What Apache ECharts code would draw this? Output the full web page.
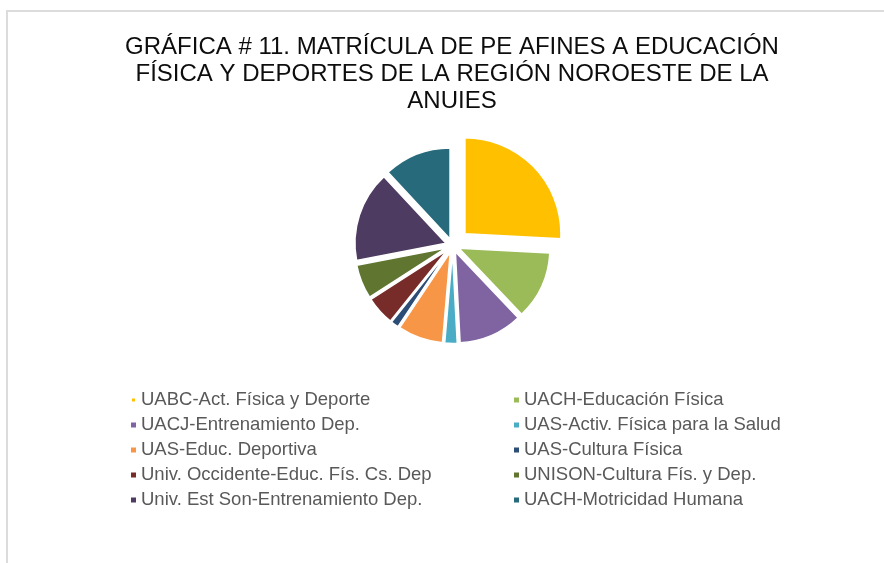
<!DOCTYPE html>
<html>
	<head>
		<meta charset="UTF-8">
		<title></title>
		<style media="screen">
      html,body{margin:0;padding:0;background:#fff;}
      #frame{
        position:absolute;left:6px;top:10px;width:900px;height:600px;
        border-top:2px solid #dcdcdc;border-left:2px solid #dcdcdc;
      }
      #echart-container{
        position:absolute;left:0;top:0;
        height: 563px;
        width: 884px;
      }
    </style>
		<script type="text/javascript" src="https://cdn.jsdelivr.net/npm/echarts@6/dist/echarts.min.js"></script>
	</head>
	<body>
		<div id="frame"></div>
		<div id="echart-container"></div>
		<script>
      // datos: matrícula por programa educativo
      var categories = [
        'UABC-Act. Física y Deporte',
        'UACH-Educación Física',
        'UACJ-Entrenamiento Dep.',
        'UAS-Activ. Física para la Salud',
        'UAS-Educ. Deportiva',
        'UAS-Cultura Física',
        'Univ. Occidente-Educ. Fís. Cs. Dep',
        'UNISON-Cultura Fís. y Dep.',
        'Univ. Est Son-Entrenamiento Dep.',
        'UACH-Motricidad Humana'
      ];
      var values = [775, 362, 338, 66, 240, 42, 154, 182, 483, 358];
      var colors = ['#FFC000','#9BBB59','#8064A2','#4BACC6','#F79646','#2C4D75','#772C2A','#5F7530','#4D3B62','#276A7C'];

      var myEchart = echarts.init(document.getElementById('echart-container'));

      // la primera rebanada va más separada: dos series superpuestas
      function buildData(showFirst){
        return categories.map(function(name, i){
          var visible = showFirst ? i === 0 : i !== 0;
          return {
            name: name,
            value: values[i],
            selected: visible,
            itemStyle: visible
              ? {color: colors[i], borderColor: '#fff', borderWidth: 1.5}
              : {color: 'transparent', borderWidth: 0}
          };
        });
      }

      function legendData(idx){
        return idx.map(function(i){
          return {name: categories[i], itemStyle: {color: colors[i]}};
        });
      }

      var legendCommon = {
        orient: 'vertical',
        top: 385,
        icon: 'rect',
        itemWidth: 5,
        itemHeight: 5,
        itemGap: 5,
        selectedMode: false,
        textStyle: {fontFamily: 'Liberation Sans', fontSize: 18.5, color: '#595959', lineHeight: 20}
      };

      var pieCommon = {
        type: 'pie',
        center: [452.6, 245.4],
        startAngle: 90,
        clockwise: true,
        selectedMode: 'multiple',
        silent: true,
        label: {show: false},
        labelLine: {show: false}
      };

      var option = {
        animation: false,
        title: {
          text: 'GRÁFICA # 11. MATRÍCULA DE PE AFINES A EDUCACIÓN\nFÍSICA Y DEPORTES DE LA REGIÓN NOROESTE DE LA\nANUIES',
          left: 447,
          textAlign: 'center',
          top: 29,
          textStyle: {fontFamily: 'Liberation Sans', fontSize: 24, fontWeight: 'normal', color: '#0d0d0d', lineHeight: 27}
        },
        legend: [
          Object.assign({left: 125, data: legendData([0,2,4,6,8])}, legendCommon),
          Object.assign({left: 509, data: legendData([1,3,5,7,9])}, legendCommon)
        ],
        series: [
          Object.assign({radius: 96, selectedOffset: 17, data: buildData(true)}, pieCommon),
          Object.assign({radius: 91, selectedOffset: 7, data: buildData(false)}, pieCommon)
        ]
      };
      myEchart.setOption(option);
		</script>
	</body>
</html>
